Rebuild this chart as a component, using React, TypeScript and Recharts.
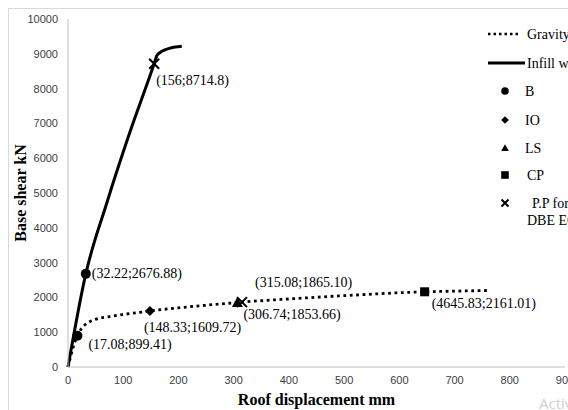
import { ComposedChart, Line, Scatter, XAxis, YAxis } from "recharts"

// pushover curves (roof displacement mm, base shear kN)
const gravityX = [0, 4, 9, 17.08, 25, 35, 50, 75, 100, 130, 148.33, 200, 250, 306.74, 315.08, 400, 500, 645.83, 700, 765]
const gravityY = [0, 250, 550, 899.41, 1120, 1260, 1370, 1450, 1510, 1570, 1609.72, 1700, 1775, 1853.66, 1865.1, 1955, 2050, 2161.01, 2180, 2200]

const infillX = [0, 32.22, 70, 110, 156, 161, 170, 182, 194, 206]
const infillY = [0, 2676.88, 4700, 6650, 8714.8, 8950, 9070, 9150, 9195, 9220]

const xTicks = [0, 100, 200, 300, 400, 500, 600, 700, 800, 900]
const yTicks = [0, 1000, 2000, 3000, 4000, 5000, 6000, 7000, 8000, 9000, 10000]

// performance points
const bPoints = [
  { x: 32.22, y: 2676.88, label: "(32.22;2676.88)" },
  { x: 17.08, y: 899.41, label: "(17.08;899.41)" },
]
const ioPoints = [{ x: 148.33, y: 1609.72, label: "(148.33;1609.72)" }]
const lsPoints = [{ x: 306.74, y: 1853.66, label: "(306.74;1853.66)" }]
const cpPoints = [{ x: 645.83, y: 2161.01, label: "(4645.83;2161.01)" }]
const ppPoints = [
  { x: 156, y: 8714.8, label: "(156;8714.8)" },
  { x: 315.08, y: 1865.1, label: "(315.08;1865.10)" },
]

const legendNames = ["Gravity", "Infill wall", "B", "IO", "LS", "CP", "P.P for", "DBE EQ"]

const gravityData = gravityX.map((x, i) => ({ x, y: gravityY[i] }))
const infillData = infillX.map((x, i) => ({ x, y: infillY[i] }))

const serif = "'Liberation Serif', 'Times New Roman', serif"

// where each value label sits relative to its marker: [dx to text start, dy to text centre]
const labelOffset: Record<string, [number, number]> = {
  "(156;8714.8)": [2, 16],
  "(32.22;2676.88)": [6, -1],
  "(17.08;899.41)": [11, 8],
  "(148.33;1609.72)": [-6, 16],
  "(315.08;1865.10)": [13, -20],
  "(306.74;1853.66)": [6, 12],
  "(4645.83;2161.01)": [7, 11],
}

type Kind = "circle" | "diamond" | "triangle" | "square" | "cross"

function Marker({ kind, cx, cy, s }: { kind: Kind; cx: number; cy: number; s: number }) {
  if (kind === "circle") return <circle cx={cx} cy={cy} r={s} fill="#000" />
  if (kind === "diamond")
    return <polygon points={`${cx},${cy - s} ${cx + s},${cy} ${cx},${cy + s} ${cx - s},${cy}`} fill="#000" />
  if (kind === "triangle")
    return <polygon points={`${cx},${cy - s} ${cx + s},${cy + s * 0.8} ${cx - s},${cy + s * 0.8}`} fill="#000" />
  if (kind === "square") return <rect x={cx - s} y={cy - s} width={s * 2} height={s * 2} fill="#000" />
  return (
    <path
      d={`M${cx - s},${cy - s}L${cx + s},${cy + s}M${cx + s},${cy - s}L${cx - s},${cy + s}`}
      stroke="#000"
      strokeWidth={2}
    />
  )
}

function pointShape(kind: Kind, s: number) {
  return (props: any) => {
    const { cx, cy, payload } = props
    const off = labelOffset[payload.label] || [6, 0]
    return (
      <g>
        <Marker kind={kind} cx={cx} cy={cy} s={s} />
        <text x={cx + off[0]} y={cy + off[1] + 5} fontFamily={serif} fontSize={14} fill="#000">
          {payload.label}
        </text>
      </g>
    )
  }
}

function ChartLegend() {
  const rows: { y: number; kind?: Kind }[] = [
    { y: 26 },
    { y: 55 },
    { y: 83, kind: "circle" },
    { y: 112, kind: "diamond" },
    { y: 140, kind: "triangle" },
    { y: 167, kind: "square" },
    { y: 195, kind: "cross" },
  ]
  return (
    <svg width={560} height={402} style={{ position: "absolute", left: 0, top: 0, pointerEvents: "none" }}>
      <line x1={480} x2={513} y1={26} y2={26} stroke="#000" strokeWidth={2.5} strokeDasharray="2.5 3" />
      <line x1={480} x2={517} y1={55} y2={55} stroke="#000" strokeWidth={3} />
      {rows.slice(2).map((r) => (
        <Marker key={r.y} kind={r.kind as Kind} cx={497} cy={r.y} s={r.kind === "cross" ? 3.5 : 3.8} />
      ))}
      <g fontFamily={serif} fontSize={14} fill="#000">
        <text x={519} y={31}>{legendNames[0]}</text>
        <text x={519} y={60}>{legendNames[1]}</text>
        <text x={517} y={88}>{legendNames[2]}</text>
        <text x={517} y={117}>{legendNames[3]}</text>
        <text x={517} y={145}>{legendNames[4]}</text>
        <text x={519} y={172}>{legendNames[5]}</text>
        <text x={524} y={200}>{legendNames[6]}</text>
        <text x={519} y={217}>{legendNames[7]}</text>
      </g>
      <text x={531} y={401} fontFamily="'Open Sans', sans-serif" fontSize={15} fill="#d0d0d0">
        Activ
      </text>
    </svg>
  )
}

export default function App() {
  return (
    <div style={{ position: "absolute", left: 8, top: 8, width: 560, height: 402, overflow: "hidden", background: "#fff" }}>
      <div style={{ position: "absolute", left: 0, top: 0, width: 560, height: 1, background: "#d9d9d9" }} />
      <div style={{ position: "absolute", left: 0, top: 0, width: 1, height: 402, background: "#d9d9d9" }} />
      <ComposedChart width={580} height={402} margin={{ top: 11, right: 23, left: 0, bottom: 0 }}>
        <XAxis
          type="number"
          dataKey="x"
          domain={[0, 900]}
          ticks={xTicks}
          tickLine={false}
          axisLine={{ stroke: "#bfbfbf" }}
          tickMargin={3}
          height={43}
          tick={{ fill: "#404040", fontSize: 11, fontFamily: "'Liberation Sans', Arial, sans-serif" }}
          label={{
            value: "Roof displacement mm",
            position: "insideBottom",
            offset: 5,
            style: { fontFamily: serif, fontWeight: "bold", fontSize: 16, fill: "#000" },
          }}
        />
        <YAxis
          type="number"
          dataKey="y"
          domain={[0, 10000]}
          ticks={yTicks}
          tickLine={false}
          axisLine={{ stroke: "#bfbfbf" }}
          tickMargin={4}
          width={60}
          tick={{ fill: "#404040", fontSize: 11, fontFamily: "'Liberation Sans', Arial, sans-serif" }}
          label={{
            value: "Base shear kN",
            angle: -90,
            position: "insideLeft",
            offset: 12,
            style: { textAnchor: "middle", fontFamily: serif, fontWeight: "bold", fontSize: 16, fill: "#000" },
          }}
        />
        <Line
          data={gravityData}
          dataKey="y"
          type="monotone"
          stroke="#000"
          strokeWidth={2.8}
          strokeDasharray="2.8 3.6"
          dot={false}
          isAnimationActive={false}
        />
        <Line
          data={infillData}
          dataKey="y"
          type="monotone"
          stroke="#000"
          strokeWidth={3}
          dot={false}
          isAnimationActive={false}
        />
        <Scatter data={bPoints} dataKey="y" shape={pointShape("circle", 5)} isAnimationActive={false} />
        <Scatter data={ioPoints} dataKey="y" shape={pointShape("diamond", 5)} isAnimationActive={false} />
        <Scatter data={lsPoints} dataKey="y" shape={pointShape("triangle", 5.5)} isAnimationActive={false} />
        <Scatter data={cpPoints} dataKey="y" shape={pointShape("square", 4.5)} isAnimationActive={false} />
        <Scatter data={ppPoints} dataKey="y" shape={pointShape("cross", 5)} isAnimationActive={false} />
      </ComposedChart>
      <ChartLegend />
    </div>
  )
}
